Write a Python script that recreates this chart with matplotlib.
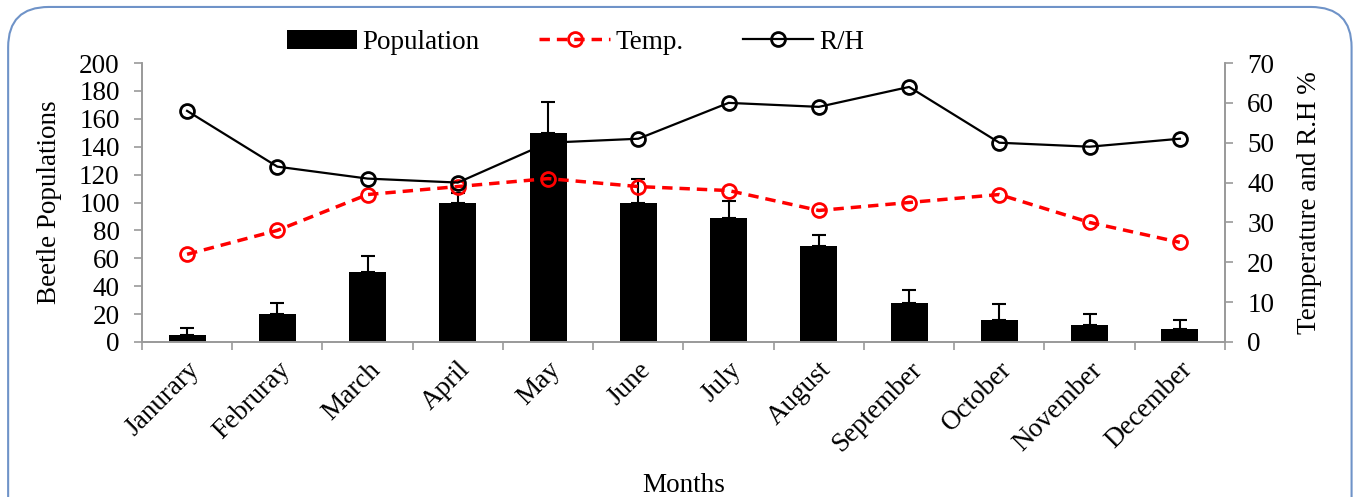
import numpy as np
import matplotlib
matplotlib.use("Agg")
import matplotlib.pyplot as plt
from matplotlib.patches import FancyBboxPatch

months = ['Janurary', 'Februray', 'March', 'April', 'May', 'June', 'July',
          'August', 'September', 'October', 'November', 'December']
population = [5, 20, 50, 100, 150, 100, 89, 69, 28, 16, 12, 9]
pop_err = [5, 8, 12, 7, 22, 17, 12, 8, 9, 11, 8, 7]
temp = [22, 28, 37, 39, 41, 39, 38, 33, 35, 37, 30, 25]
rh = [58, 44, 41, 40, 50, 51, 60, 59, 64, 50, 49, 51]

plt.rcParams['font.family'] = ['Liberation Serif', 'DejaVu Serif']
plt.rcParams['font.size'] = 19.5

fig = plt.figure(figsize=(13.57, 4.97), dpi=100)
ax = fig.add_axes([0.1046, 0.3119, 0.7981, 0.5613])
ax2 = ax.twinx()

x = np.arange(len(months))
ax.bar(x, population, width=0.41, color='black', label='Population', zorder=2)
ax.errorbar(x, population, yerr=[np.zeros(len(pop_err)), pop_err], fmt='none',
            ecolor='black', elinewidth=1.5, capsize=5, capthick=1.5, zorder=3)

ax2.plot(x, temp, color='#ff0000', ls=(0, (3, 2)), lw=2.5, marker='o', ms=10,
         mfc='none', mec='#ff0000', mew=2, label='Temp.')
ax2.plot(x, rh, color='black', lw=1.6, marker='o', ms=10, mfc='none',
         mec='black', mew=2, label='R/H')

ax.set_xlim(-0.5, len(months) - 0.5)
ax.set_ylim(0, 200)
ax.set_yticks(range(0, 201, 20))
ax2.set_ylim(0, 70)
ax2.set_yticks(range(0, 71, 10))

ax.set_xticks(x)
ax.set_xticklabels(months, rotation=45, ha='right', rotation_mode='anchor')
ax.set_xticks(np.arange(-0.5, len(months), 1), minor=True)
ax.tick_params(axis='x', which='major', length=0, pad=11)
ax.tick_params(axis='x', which='minor', length=6, color='#999999', width=1.2)
ax.tick_params(axis='y', length=6, color='#999999', width=1.2, pad=10)
ax2.tick_params(axis='y', length=6, color='#999999', width=1.2, pad=10)

for a in (ax, ax2):
    a.spines['top'].set_visible(False)
    for s in ('left', 'right', 'bottom'):
        a.spines[s].set_color('#999999')
        a.spines[s].set_linewidth(1.2)

ax.set_ylabel('Beetle Populations', labelpad=12)
ax2.set_ylabel('Temperature and R.H %', labelpad=16)
ax.set_xlabel('Months')
ax.xaxis.set_label_coords(0.5, -0.47)

h1, l1 = ax.get_legend_handles_labels()
h2, l2 = ax2.get_legend_handles_labels()
fig.legend(h1 + h2, l1 + l2, loc='center', bbox_to_anchor=(0.424, 0.915),
           ncol=3, frameon=False, handlelength=2.6, columnspacing=2.2,
           handletextpad=0.2, fontsize=19.5)

frame = FancyBboxPatch((0.006, -0.1), 0.99, 1.086,
                       boxstyle='round,pad=0,rounding_size=0.03',
                       transform=fig.transFigure, fill=False,
                       ec='#6f93c8', lw=1.5, mutation_aspect=2.7)
fig.patches.append(frame)

fig.savefig('out.png', dpi=100)
